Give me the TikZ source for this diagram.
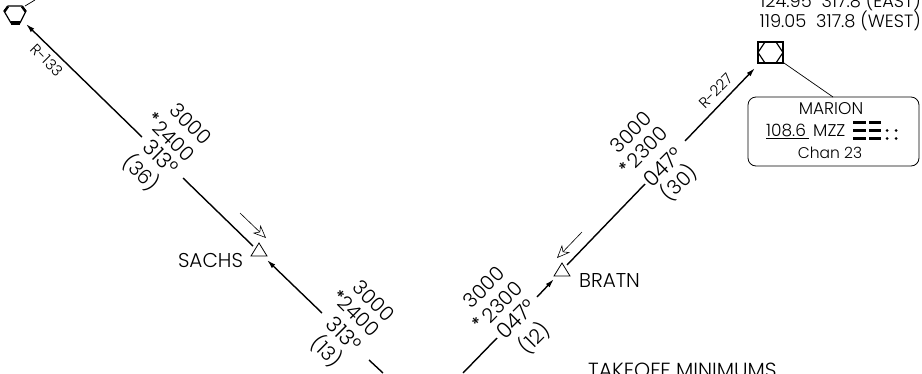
\documentclass[tikz,border=0pt]{standalone}
\usepackage{fontspec}
\setmainfont{Poppins}[UprightFont=* Light,BoldFont=* Medium]
\usetikzlibrary{arrows.meta,calc}
\begin{document}
\begin{tikzpicture}[x=1pt,y=-1pt,
 route/.style={draw=black,line width=1.4pt},
 rarrow/.style={route,-{Latex[length=9pt,width=5pt]}},
 inbound/.style={draw=black,line width=.6pt,-{Stealth[open,length=13pt,width=11pt,inset=4pt,line width=.6pt]}},
 lbl/.style={inner sep=0pt,font=\fontsize{17}{18}\selectfont},
 big/.style={inner sep=0pt,font=\fontsize{20}{21}\selectfont},
 rad/.style={inner sep=0pt,font=\fontsize{15}{16}\selectfont},
 alt/.style={inner sep=0pt,font=\fontsize{20}{22}\selectfont},
 crs/.style={inner sep=0pt,font=\fontsize{21.5}{24}\selectfont},
 fixpt/.style={draw=black,line width=.8pt,fill=white},
 leader/.style={draw=black,line width=.7pt},
 ]
\useasboundingbox (0,0) rectangle (922,373);
\clip (0,0) rectangle (922,373);
\foreach \n/\x/\y in {vw/26/24,a1/142/137,b1/183/178,sa/253/246,sb/267/260,a2/322/313,b2/369/360,e2/383/373,
  e3/463/373,b3/497/338,a3/537/297,bb/554/279,ba/567/265,b4/645/184,a4/685/141,mz/755/68,
  ti1/240/213,th1/266/238,ti2/582/232,th2/557/258,vt/25/6,vte/35/0,ml/784/63,mb/833/97}
  {\coordinate (\n) at (\x,\y);}
\draw[rarrow] (a1) -- (vw);
\draw[route] (b1) -- (sa);
\draw[rarrow] (a2) -- (sb);
\draw[route] (b2) -- (e2);
\draw[route] (e3) -- (b3);
\draw[rarrow] (a3) -- (bb);
\draw[route] (ba) -- (b4);
\draw[rarrow] (a4) -- (mz);
\draw[inbound] (ti1) -- (th1);
\draw[inbound] (ti2) -- (th2);
% west VOR
\draw[line width=1.2pt,line join=round] (4,11) -- (8,6) -- (22,6) -- (26,11) -- (20,23) -- (11,23) -- cycle;
\fill (11,21) rectangle (20,24.5);
\draw[line width=2.4pt] (4.5,11.5) -- (8,6.5);
\draw[line width=2.4pt] (25.5,11.5) -- (22,6.5);
\draw[leader] (vt) -- (vte);
% Marion
\draw[line width=1.6pt] (758,42) rectangle (783,63);
\draw[line width=1.2pt] (758,52.5) -- (765,42) -- (776,42) -- (783,52.5) -- (776,63) -- (765,63) -- cycle;
\draw[leader] (ml) -- (mb);
\node[draw=black,line width=.8pt,rounded corners=8pt,minimum width=171pt,minimum height=69pt,inner sep=0pt] (box) at (833.5,131.5) {};
\node[lbl] (mname) at (831,109) {MARION};
\node[lbl,anchor=base west] (mfreq) at (766,136) {108.6};
\node[lbl,anchor=base west] (mid) at (813,136) {MZZ};
\draw[line width=.7pt] (766,138) -- (809,138);
\node[lbl,font=\fontsize{15.5}{17}\selectfont] (mchan) at (830,153) {Chan 23};
\foreach \y in {122.5,130.5,138.5}{\fill (853,\y-1.4) rectangle (866,\y+1.4); \fill (869,\y-1.4) rectangle (881,\y+1.4);}
\foreach \x in {887,896}\foreach \y in {130.5,138.5}{\fill (\x,\y) circle (1.5pt);}
% triangles
\draw[fixpt] (259,243) -- (251,256) -- (267,256) -- cycle;
\draw[fixpt] (562,263) -- (554,276) -- (570,276) -- cycle;
% labels
\node[big] (sachs) at (210.5,260) {SACHS};
\node[big] (bratn) at (609.5,281) {BRATN};
\node[lbl,anchor=base east,font=\fontsize{17.8}{19}\selectfont] (freq1) at (921,7.5) {124.95\ \ 317.8 (EAST)};
\node[lbl,anchor=base east,font=\fontsize{17.8}{19}\selectfont] (freq2) at (921,27) {119.05\ \ 317.8 (WEST)};
\node[big,anchor=base west,font=\fontsize{20.5}{22}\selectfont] (tk) at (588,377) {TAKEOFF MINIMUMS};
\node[rad,rotate=-45] (r1) at (47,60) {R-133};
\node[rad,rotate=45] (r2) at (716,91) {R-227};
% stacks
\foreach \nm/\x/\y/\r/\t in {
 s1a/191/124/-45/3000, s1b/174/141/-45/2400, s1d/141/173/-45/(36),
 s2a/374/301/-45/3000, s2b/359/316/-45/2400, s2d/327/351/-45/(13),
 s3a/484/287/45/3000, s3b/502/302/45/2300, s3d/534/338/45/(12),
 s4a/631/132/45/3000, s4b/647/147/45/2300, s4d/679/183/45/(30)}
 {\node[alt,rotate=\r] (\nm) at (\x,\y) {\t};}
\foreach \nm/\x/\y/\r/\t in {s1c/161/157/-45/313°, s2c/344/334/-45/313°, s3c/516/319/45/047°, s4c/663/167/45/047°}
 {\node[crs,rotate=\r] (\nm) at (\x,\y) {\t};}
\foreach \nm/\x/\y/\r in {s1e/154/118/-45,s2e/339/296/-45,s3e/478/323/45,s4e/625/168/45}
 {\node[inner sep=0pt,font=\fontsize{17}{18}\selectfont\bfseries,rotate=\r] (\nm) at (\x,\y) {*};}
\end{tikzpicture}
\end{document}
